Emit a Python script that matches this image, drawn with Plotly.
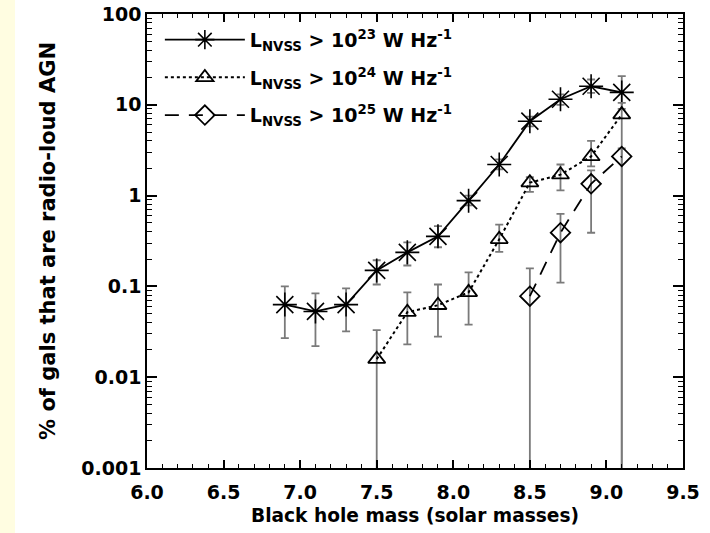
import plotly.graph_objects as go

# ---- data ----
mass_23 = [6.9, 7.1, 7.3, 7.5, 7.7, 7.9, 8.1, 8.3, 8.5, 8.7, 8.9, 9.1]
frac_23 = [0.063, 0.053, 0.063, 0.15, 0.237, 0.356, 0.88, 2.2, 6.6, 11.5, 16.0, 13.7]
hi_23 = [0.100, 0.084, 0.095, 0.194, 0.306, 0.46, 1.0, 2.5, 7.4, 13.0, 19.0, 20.7]
lo_23 = [0.027, 0.022, 0.032, 0.105, 0.17, 0.27, 0.78, 1.95, 5.8, 10.0, 13.5, 9.0]

mass_24 = [7.5, 7.7, 7.9, 8.1, 8.3, 8.5, 8.7, 8.9, 9.1]
frac_24 = [0.0158, 0.052, 0.062, 0.086, 0.33, 1.39, 1.7, 2.7, 7.8]
hi_24 = [0.033, 0.086, 0.105, 0.143, 0.48, 1.6, 2.2, 4.0, 10.5]
lo_24 = [0.0001, 0.023, 0.028, 0.038, 0.24, 1.1, 1.14, 2.1, 0.0001]

mass_25 = [8.5, 8.7, 8.9, 9.1]
frac_25 = [0.078, 0.39, 1.35, 2.7]
hi_25 = [0.158, 0.63, 1.9, 3.3]
lo_25 = [0.0001, 0.11, 0.39, 0.0001]

y_tickvals = [0.001, 0.01, 0.1, 1, 10, 100]
y_ticktext = ["0.001", "0.01", "0.1", "1", "10", "100"]
x_tickvals = [6.0, 6.5, 7.0, 7.5, 8.0, 8.5, 9.0, 9.5]

names = [
    "L<sub>NVSS</sub> > 10<sup>23</sup> W Hz<sup>-1</sup>",
    "L<sub>NVSS</sub> > 10<sup>24</sup> W Hz<sup>-1</sup>",
    "L<sub>NVSS</sub> > 10<sup>25</sup> W Hz<sup>-1</sup>",
]

FONT = "DejaVu Sans"
ERRC = "#7a7a7a"


def err(y, hi, lo):
    return dict(type="data", symmetric=False,
                array=[h - v for h, v in zip(hi, y)],
                arrayminus=[v - l for v, l in zip(y, lo)],
                color=ERRC, thickness=1.8, width=4)


fig = go.Figure()
fig.add_trace(go.Scatter(
    x=mass_23, y=frac_23, name=names[0], mode="lines+markers", legendgroup="a",
    line=dict(color="black", width=1.8, dash="solid"),
    marker=dict(symbol="asterisk-open", size=20, color="black",
                line=dict(color="black", width=1.6)),
    error_y=err(frac_23, hi_23, lo_23)))
fig.add_trace(go.Scatter(
    x=mass_24, y=frac_24, name=names[1], mode="lines+markers", legendgroup="b",
    line=dict(color="black", width=2, dash="dot"),
    marker=dict(symbol="triangle-up-open", size=15, color="black",
                line=dict(color="black", width=1.8)),
    error_y=err(frac_24, hi_24, lo_24)))
fig.add_trace(go.Scatter(
    x=mass_25, y=frac_25, name=names[2], mode="lines+markers", legendgroup="c",
    line=dict(color="black", width=1.8, dash="14px,10px"),
    marker=dict(symbol="diamond-open", size=15, color="black",
                line=dict(color="black", width=1.8)),
    error_y=err(frac_25, hi_25, lo_25)))

minor_y = [m * 10 ** k for k in range(-3, 2) for m in range(2, 10)]

axis_common = dict(showline=True, linecolor="black", linewidth=1.5, mirror="ticks",
                   ticks="inside", tickwidth=1.5, tickcolor="black",
                   showgrid=False, zeroline=False,
                   tickfont=dict(family=FONT, size=19, color="black", weight="bold"))

fig.update_xaxes(range=[6.0, 9.5], tickvals=x_tickvals, tickformat=".1f", ticklen=8,
                 ticklabelstandoff=6,
                 title=dict(text="Black hole mass (solar masses)",
                            font=dict(family=FONT, size=18.6, color="black", weight="bold"),
                            standoff=7),
                 minor=dict(dtick=0.1, ticks="inside", ticklen=4, tickwidth=1.2,
                            tickcolor="black", showgrid=False),
                 **axis_common)
fig.update_yaxes(type="log", range=[-3, 2], tickvals=y_tickvals, ticktext=y_ticktext,
                 ticklen=10,
                 title=dict(text="% of gals that are radio-loud AGN",
                            font=dict(family=FONT, size=21, color="black", weight="bold"),
                            standoff=20),
                 minor=dict(tickvals=minor_y, ticks="inside", ticklen=5, tickwidth=1.2,
                            tickcolor="black", showgrid=False),
                 **axis_common)

fig.update_layout(
    width=710, height=533,
    margin=dict(l=147, r=27, t=14, b=65, autoexpand=False),
    paper_bgcolor="white", plot_bgcolor="white",
    font=dict(family=FONT, size=19, color="black", weight="bold"),
    showlegend=True,
    legend=dict(x=0.024, y=0.985, xanchor="left", yanchor="top",
                bgcolor="rgba(0,0,0,0)", borderwidth=0,
                font=dict(family=FONT, size=19, color="black", weight="bold"),
                tracegroupgap=10, itemwidth=80),
    shapes=[dict(type="rect", xref="paper", yref="paper",
                 x0=-147 / 536, x1=-132 / 536, y0=-65 / 454, y1=1 + 14 / 454,
                 fillcolor="#FFFDE1", line=dict(width=0), layer="below")],
)

fig.write_html("out.html", config={"displayModeBar": False},
               post_script="document.body.style.margin='0';")
